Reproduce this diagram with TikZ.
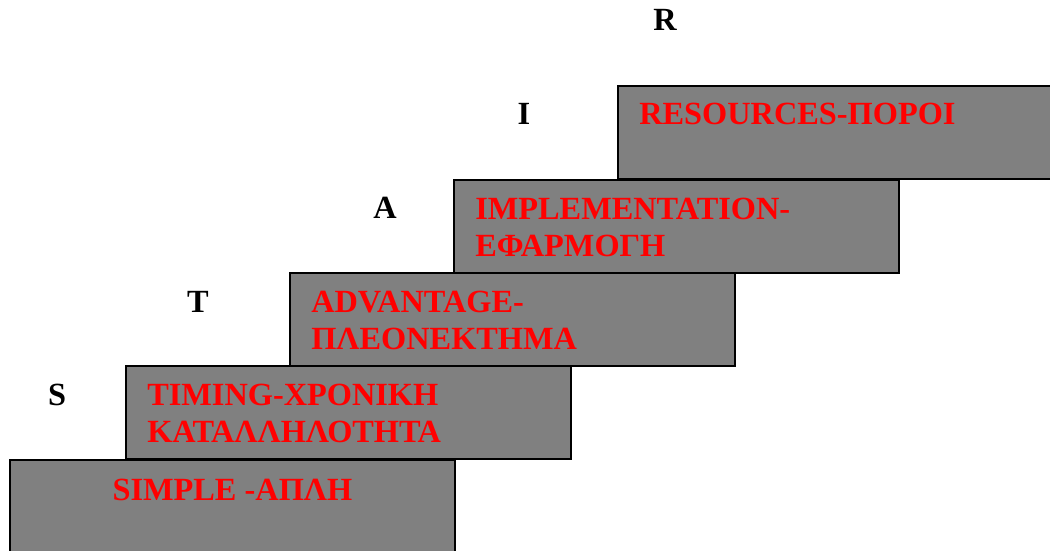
\documentclass[tikz,border=0pt]{standalone}
\usepackage{fontspec}
\setmainfont{Liberation Serif}
\usetikzlibrary{positioning}
\definecolor{stepgray}{RGB}{128, 128, 128}
\definecolor{steptextred}{RGB}{255, 0, 0}
\tikzstyle{stairstep}=[draw,fill=stepgray,line width=1.3pt,anchor=north west,minimum width=11.125cm,minimum height=2.325cm,inner sep=0pt]
\tikzstyle{stairtext}=[steptextred,font=\fontsize{23pt}{26.5pt}\selectfont\bfseries,text width=10.5cm,align=left,inner sep=0pt,anchor=base west]
\tikzstyle{stairletter}=[font=\fontsize{23pt}{26.5pt}\selectfont\bfseries,inner sep=0pt,anchor=base]
\tikzstyle{textshift}=[shift={(0.55cm,-1.0cm)}]

\begin{document}
\begin{tikzpicture}

\useasboundingbox (0cm,0cm) rectangle (26.25cm,-13.775cm);

\node[stairstep] (SIMPLE) at (0.225cm,-11.475cm) {};
\node[stairstep] (TIMING) at (3.125cm,-9.125cm) {};
\node[stairstep] (ADVANTAGE) at (7.225cm,-6.8cm) {};
\node[stairstep] (IMPLEMENTATION) at (11.325cm,-4.475cm) {};
\node[stairstep] (RESOURCES) at (15.425cm,-2.125cm) {};

\node[stairtext,text width=,anchor=base] (SIMPLETEXT) at ([yshift=-1.025cm]SIMPLE.north) {SIMPLE -ΑΠΛΗ};
\node[stairtext] (TIMINGTEXT) at ([textshift]TIMING.north west) {TIMING-ΧΡΟΝΙΚΗ\\ΚΑΤΑΛΛΗΛΟΤΗΤΑ};
\node[stairtext] (ADVANTAGETEXT) at ([textshift]ADVANTAGE.north west) {ADVANTAGE-\\ΠΛΕΟΝΕΚΤΗΜΑ};
\node[stairtext] (IMPLEMENTATIONTEXT) at ([textshift]IMPLEMENTATION.north west) {IMPLEMENTATION-\\ΕΦΑΡΜΟΓΗ};
\node[stairtext] (RESOURCESTEXT) at ([textshift]RESOURCES.north west) {RESOURCES-ΠΟΡΟΙ};

\node[stairletter] (S) at (1.425cm,-10.125cm) {S};
\node[stairletter] (T) at (4.95cm,-7.8cm) {T};
\node[stairletter] (A) at (9.625cm,-5.45cm) {A};
\node[stairletter] (I) at (13.1cm,-3.125cm) {I};
\node[stairletter] (R) at (16.625cm,-0.775cm) {R};

\end{tikzpicture}
\end{document}
